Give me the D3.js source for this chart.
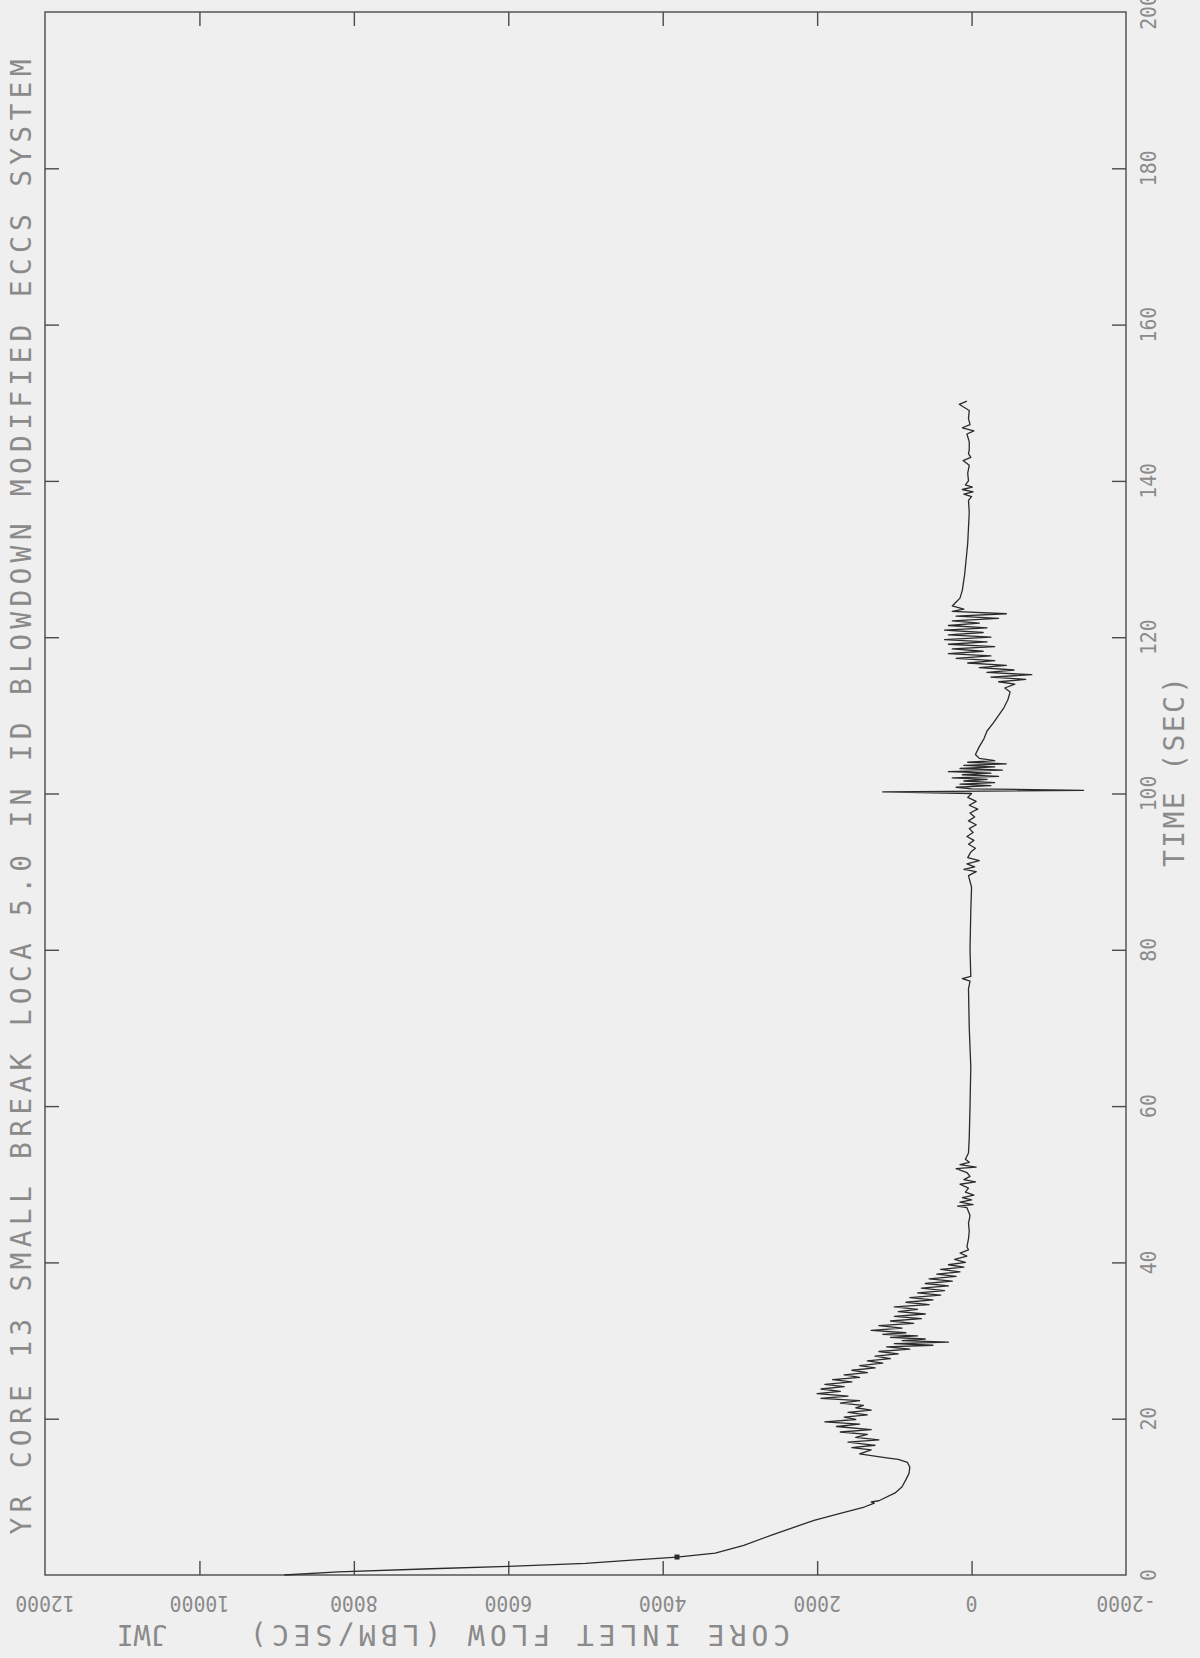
<!DOCTYPE html>
<html>
<head>
<meta charset="utf-8">
<script src="https://cdn.jsdelivr.net/npm/d3@7/dist/d3.min.js"></script>
<style>
  html, body { margin: 0; padding: 0; background: #efefef; }
  svg { display: block; }
  text { font-family: "DejaVu Sans Mono", "Liberation Mono", monospace; fill: #8a8a8a; }
</style>
</head>
<body>
<svg id="chart" width="1200" height="1658"></svg>
<script>
// Axis ranges and tick labels
const flowDomain = [12000, -2000];
const timeDomain = [0, 200];
const flowTickLabels = [12000, 10000, 8000, 6000, 4000, 2000, 0, -2000];
const timeTickLabels = [0, 20, 40, 60, 80, 100, 120, 140, 160, 180, 200];
const flowInnerTicks = [10000, 8000, 6000, 4000, 2000, 0];
const timeInnerTicks = [20, 40, 60, 80, 100, 120, 140, 160, 180];

const titleText = "YR CORE 13 SMALL BREAK LOCA 5.0 IN ID BLOWDOWN MODIFIED ECCS SYSTEM";
const flowTitle = "CORE INLET FLOW (LBM/SEC)";
const timeTitle = "TIME (SEC)";
const initials = "JWI";

// Core inlet flow trace: [time (s), flow (lbm/s)]
const trace = [
  [0, 8900], [0.4, 8200], [0.8, 7000], [1.1, 6000], [1.5, 5000], [1.9, 4400],
  [2.3, 3815], [2.8, 3320], [3.8, 2950], [5.1, 2590], [6.0, 2330], [7.0, 2040],
  [7.9, 1700], [8.7, 1390], [9.2, 1260], [9.35, 1300], [9.5, 1200], [10.5, 990],
  [11.3, 900], [12.2, 850], [13.0, 810], [13.8, 800], [14.4, 830], [14.8, 950],
  [15.0, 1100], [15.5, 1450], [16.0, 1300], [16.3, 1550], [16.6, 1250], [17.0, 1600],
  [17.3, 1200], [17.6, 1500], [18.0, 1350], [18.3, 1700], [18.6, 1300], [19.0, 1750],
  [19.3, 1450], [19.6, 1900], [19.9, 1500], [20.2, 1650], [20.5, 1350], [20.8, 1600],
  [21.1, 1300], [21.4, 1500], [21.7, 1400], [22.0, 1700], [22.3, 1450], [22.6, 1950],
  [22.9, 1600], [23.2, 2000], [23.5, 1700], [23.8, 1950], [24.1, 1650], [24.4, 1900],
  [24.7, 1550], [25.0, 1800], [25.3, 1450], [25.6, 1650], [25.9, 1350], [26.2, 1550],
  [26.5, 1250], [26.8, 1450], [27.1, 1150], [27.4, 1350], [27.7, 1050], [28.0, 1250],
  [28.3, 950], [28.6, 1200], [28.9, 800], [29.2, 1100], [29.4, 500], [29.6, 1000],
  [29.8, 300], [30.0, 900], [30.2, 600], [30.4, 1050], [30.6, 700], [30.8, 1150],
  [31.0, 850], [31.3, 1300], [31.6, 900], [31.9, 1200], [32.2, 750], [32.5, 1050],
  [32.8, 650], [33.1, 1000], [33.4, 600], [33.7, 950], [34.0, 700], [34.3, 1000],
  [34.6, 550], [34.9, 850], [35.2, 500], [35.5, 800], [35.8, 400], [36.1, 700],
  [36.4, 350], [36.7, 650], [37.0, 300], [37.3, 600], [37.6, 250], [37.9, 550],
  [38.2, 200], [38.5, 450], [38.8, 150], [39.1, 400], [39.4, 100], [39.7, 300],
  [40.0, 80], [40.4, 220], [40.8, 60], [41.2, 150], [41.6, 40], [42, 60],
  [43, 40], [44, 30], [45, 40], [46, 20], [47, 60], [47.2, 180], [47.4, -20],
  [47.7, 150], [48.0, 0], [48.3, 120], [48.6, -30], [49.0, 80], [49.5, 40],
  [50.0, 150], [50.3, -50], [50.6, 100], [51.0, 20], [51.5, 60], [52.0, 200],
  [52.2, -60], [52.5, 150], [52.8, 30], [53.2, 80], [54, 40], [56, 30], [60, 20],
  [65, 10], [70, 30], [75, 40], [76.0, 20], [76.3, 120], [76.6, 10], [80, 20],
  [85, 10], [88, 0], [89.5, 40], [90.0, -60], [90.3, 100], [90.6, -40], [91.0, 60],
  [91.4, -100], [91.8, 50], [92.5, 10], [93.0, -50], [93.5, 40], [94.0, -30],
  [94.5, 60], [95.0, -20], [95.5, 30], [96.0, -60], [96.5, 40], [97.0, -40],
  [97.5, 20], [98.0, -80], [98.5, 30], [99.0, -60], [99.5, 50], [100.0, 0],
  [100.2, 1150], [100.4, -1450], [100.6, 0], [100.8, 200], [101.0, -250], [101.2, 150],
  [101.4, -300], [101.6, 100], [101.8, -200], [102.0, 250], [102.2, -350], [102.4, 120],
  [102.6, -250], [102.8, 300], [103.0, -400], [103.2, 150], [103.4, -300], [103.6, 100],
  [103.8, -450], [104.0, 50], [104.2, -300], [104.5, -100], [105, -50], [106, -100],
  [107, -160], [108, -200], [109, -280], [110, -350], [111, -420], [112, -470],
  [113, -500], [113.5, -430], [114.0, -560], [114.3, -350], [114.6, -700], [114.9, -250],
  [115.2, -780], [115.5, -200], [115.8, -550], [116.1, -100], [116.4, -450], [116.7, 50],
  [117.0, -300], [117.3, 200], [117.6, -250], [117.9, 300], [118.2, -150], [118.5, 250],
  [118.8, -300], [119.1, 300], [119.4, -200], [119.7, 350], [120.0, -250], [120.3, 300],
  [120.6, -150], [120.9, 350], [121.2, -200], [121.5, 300], [121.8, -100], [122.1, 250],
  [122.4, -350], [122.7, 200], [123.0, -450], [123.3, 250], [123.6, 100], [124, 250],
  [124.5, 200], [125, 150], [126, 120], [128, 90], [130, 70], [132, 50], [134, 40],
  [136, 30], [137.5, 40], [138.0, 0], [138.3, 100], [138.6, -20], [138.9, 120],
  [139.2, -10], [139.5, 80], [140, 40], [141, 50], [142, 30], [142.6, 110], [143, 10],
  [143.5, 40], [144, 30], [145, 30], [146, 60], [146.4, -30], [146.8, 120], [147.2, 20],
  [148, 40], [149, 30], [149.8, 160], [150.2, 60]
];

// Plotter symbol placed on the trace
const markerPoints = [[2.3, 3815]];

const svg = d3.select("#chart");

// Flow runs right-to-left along the bottom, time runs bottom-to-top on the right
const x = d3.scaleLinear().domain(flowDomain).range([45, 1126]);
const y = d3.scaleLinear().domain(timeDomain).range([1575, 12]);

const frameColor = "#4a4a4a";
const tickLen = 14;

// frame
svg.append("rect")
  .attr("x", x(flowDomain[0])).attr("y", y(timeDomain[1]))
  .attr("width", x(flowDomain[1]) - x(flowDomain[0]))
  .attr("height", y(timeDomain[0]) - y(timeDomain[1]))
  .attr("fill", "none").attr("stroke", frameColor).attr("stroke-width", 1.4);

// inward ticks on all four sides
function styleAxis(g) {
  g.select(".domain").remove();
  g.selectAll(".tick line").attr("stroke", frameColor).attr("stroke-width", 1.4);
  g.selectAll(".tick text").remove();
}
svg.append("g").attr("transform", `translate(0,${y(0)})`)
  .call(d3.axisBottom(x).tickValues(flowInnerTicks).tickSize(-tickLen).tickFormat(""))
  .call(styleAxis);
svg.append("g").attr("transform", `translate(0,${y(200)})`)
  .call(d3.axisTop(x).tickValues(flowInnerTicks).tickSize(-tickLen).tickFormat(""))
  .call(styleAxis);
svg.append("g").attr("transform", `translate(${x(-2000)},0)`)
  .call(d3.axisRight(y).tickValues(timeInnerTicks).tickSize(-tickLen).tickFormat(""))
  .call(styleAxis);
svg.append("g").attr("transform", `translate(${x(12000)},0)`)
  .call(d3.axisLeft(y).tickValues(timeInnerTicks).tickSize(-tickLen).tickFormat(""))
  .call(styleAxis);

// flow tick labels (upside down)
svg.append("g").selectAll("text").data(flowTickLabels).join("text")
  .attr("transform", d => `translate(${x(d)},1603) rotate(180) scale(0.9,1)`)
  .attr("text-anchor", "middle").attr("dominant-baseline", "central")
  .attr("font-size", 22)
  .text(d => d);

// time tick labels (reading bottom-to-top)
svg.append("g").selectAll("text").data(timeTickLabels).join("text")
  .attr("transform", d => `translate(1149,${y(d)}) rotate(-90) scale(0.9,1)`)
  .attr("text-anchor", "middle").attr("dominant-baseline", "central")
  .attr("font-size", 22)
  .text(d => d);

// titles
svg.append("text")
  .attr("transform", "translate(21,797) rotate(-90)")
  .attr("text-anchor", "middle").attr("dominant-baseline", "central")
  .attr("font-size", 28)
  .attr("textLength", 1475).attr("lengthAdjust", "spacing")
  .text(titleText);

svg.append("text")
  .attr("transform", "translate(520,1634) rotate(180)")
  .attr("text-anchor", "middle").attr("dominant-baseline", "central")
  .attr("font-size", 28)
  .attr("textLength", 540).attr("lengthAdjust", "spacing")
  .text(flowTitle);

svg.append("text")
  .attr("transform", "translate(142,1634) rotate(180)")
  .attr("text-anchor", "middle").attr("dominant-baseline", "central")
  .attr("font-size", 28)
  .text(initials);

svg.append("text")
  .attr("transform", "translate(1174,772) rotate(-90)")
  .attr("text-anchor", "middle").attr("dominant-baseline", "central")
  .attr("font-size", 28)
  .attr("textLength", 190).attr("lengthAdjust", "spacing")
  .text(timeTitle);

// trace
const line = d3.line().x(d => x(d[1])).y(d => y(d[0]));
svg.append("path")
  .datum(trace)
  .attr("d", line)
  .attr("fill", "none")
  .attr("stroke", "#2b2b2b")
  .attr("stroke-width", 1.3)
  .attr("stroke-linejoin", "round");

svg.append("g").selectAll("rect").data(markerPoints).join("rect")
  .attr("x", d => x(d[1]) - 2.5).attr("y", d => y(d[0]) - 2.5)
  .attr("width", 5).attr("height", 5).attr("fill", "#2b2b2b");
</script>
</body>
</html>
